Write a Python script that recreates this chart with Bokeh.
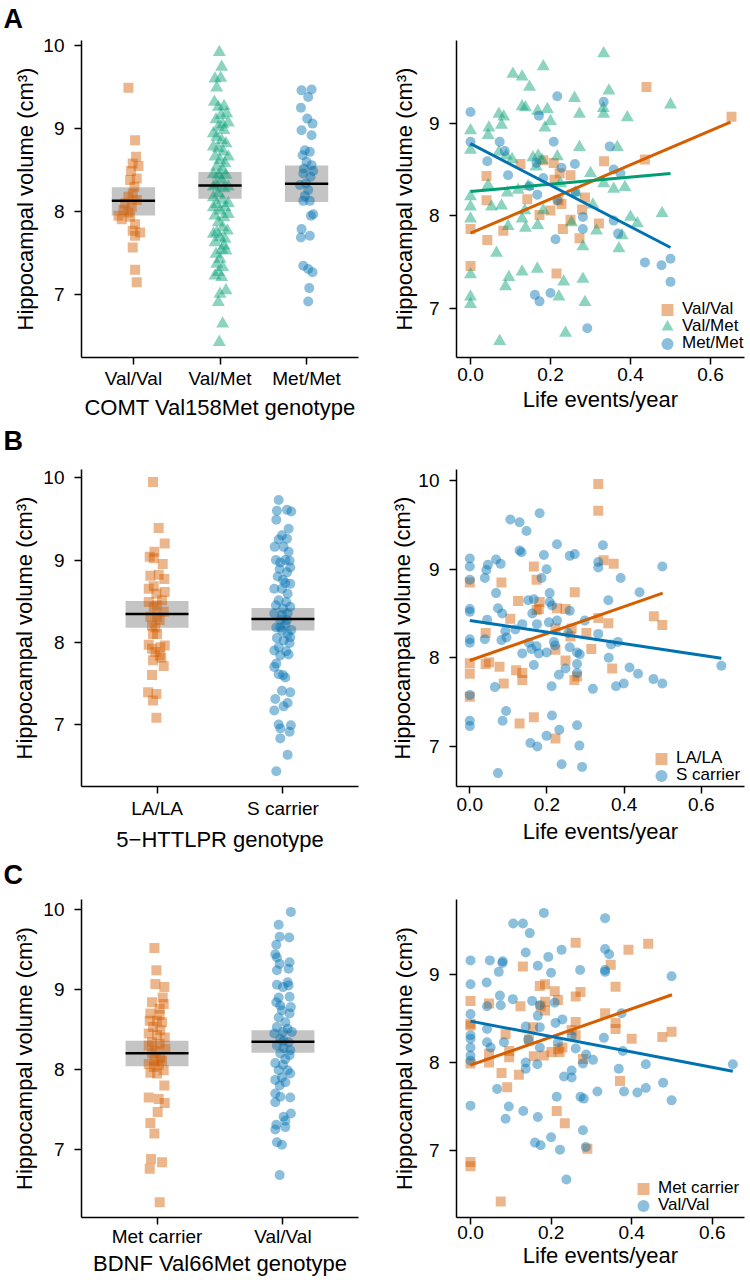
from bokeh.plotting import figure
from bokeh.layouts import column, row
from bokeh.models import Range1d, FixedTicker, PrintfTickFormatter, Legend, LegendItem, Title
from bokeh.embed import file_html
from bokeh.resources import INLINE

FONT = "Liberation Sans"
ORANGE, GREEN, BLUE = "#D55E00", "#009E73", "#0072B2"

# ---------------- Panel A (COMT Val158Met) ----------------
a_groups = ["Val/Val", "Val/Met", "Met/Met"]
a_means = [8.13, 8.315, 8.335]
a_ci_low = [7.955, 8.155, 8.115]
a_ci_high = [8.295, 8.476, 8.556]
# (jitter offset, volume)
a_strip_valval = [(-0.058, 9.49), (0.019, 8.86), (0.031, 8.66), (-0.008, 8.58), (0.058, 8.55), (-0.027, 8.49),
                  (0.038, 8.40), (-0.038, 8.38), (0.012, 8.30), (-0.008, 8.22), (-0.058, 8.18), (0.038, 8.14),
                  (-0.096, 8.10), (-0.019, 8.06), (-0.115, 8.02), (-0.058, 7.99), (-0.173, 7.95), (-0.038, 7.94),
                  (-0.135, 7.91), (0.019, 7.85), (-0.008, 7.77), (0.077, 7.75), (0.019, 7.71), (-0.008, 7.57),
                  (0.019, 7.30), (0.038, 7.15)]
a_strip_valmet = [(-0.008, 9.92), (0.019, 9.74), (-0.058, 9.60), (0.008, 9.61), (-0.038, 9.49), (-0.065, 9.32),
                  (-0.019, 9.26), (0.046, 9.27), (0.012, 9.16), (0.077, 9.18), (-0.046, 9.11), (0.031, 9.05),
                  (-0.019, 9.02), (0.046, 8.98), (-0.038, 8.90), (0.019, 8.86), (0.069, 8.82), (-0.019, 8.76),
                  (0.038, 8.72), (-0.058, 8.66), (0.0, 8.62), (0.058, 8.58), (-0.038, 8.54), (0.031, 8.50),
                  (-0.077, 8.45), (-0.019, 8.44), (0.069, 8.44), (0.019, 8.38), (-0.046, 8.32), (0.046, 8.28),
                  (-0.019, 8.22), (-0.077, 8.17), (0.031, 8.14), (-0.038, 8.09), (0.058, 8.05), (0.0, 8.01),
                  (-0.058, 7.95), (0.046, 7.93), (-0.019, 7.87), (0.031, 7.81), (-0.038, 7.75), (0.0, 7.69),
                  (-0.058, 7.63), (0.046, 7.59), (0.019, 7.54), (0.069, 7.53), (0.0, 7.43), (-0.038, 7.37),
                  (0.031, 7.33), (-0.019, 7.27), (0.019, 7.21), (0.069, 7.05), (0.0, 7.01), (-0.019, 6.91),
                  (0.031, 6.65), (-0.008, 6.43), (-0.077, 8.94), (0.096, 9.07), (-0.077, 8.78), (0.096, 8.66),
                  (-0.077, 8.30), (0.096, 8.30), (0.096, 8.10), (-0.077, 8.05), (0.085, 7.77), (-0.077, 7.73),
                  (0.096, 7.97), (-0.046, 7.49), (0.058, 7.67), (-0.058, 7.23)]
a_strip_metmet = [(-0.058, 9.46), (0.058, 9.47), (0.019, 9.38), (-0.065, 9.25), (0.008, 9.12), (0.069, 9.06),
                  (-0.058, 8.98), (0.058, 8.92), (-0.019, 8.74), (0.038, 8.72), (-0.046, 8.68), (0.0, 8.60),
                  (0.058, 8.56), (-0.031, 8.52), (0.077, 8.49), (-0.038, 8.46), (0.046, 8.42), (-0.008, 8.34),
                  (-0.077, 8.32), (0.019, 8.26), (-0.019, 8.19), (-0.038, 8.13), (0.038, 8.13), (0.077, 7.97),
                  (0.05, 7.95), (-0.058, 7.79), (-0.065, 7.69), (0.038, 7.71), (-0.038, 7.35), (0.019, 7.31),
                  (0.069, 7.27), (0.031, 7.08), (0.019, 6.92)]
# (life events/year, volume)
a_life_valval = [(0.6525, 9.07), (0.44, 9.39), (0.436, 8.61), (0.334, 8.59), (0.125, 8.56), (0.04, 8.43),
                 (0.208, 8.57), (0.182, 8.60), (0.25, 8.44), (0.223, 8.46), (0.21, 8.39), (0.04, 8.17),
                 (0.142, 8.18), (0.22, 8.17), (0.2275, 8.13), (0.286, 8.20), (0.279, 8.07), (0.2, 8.06),
                 (0.1725, 8.01), (0.321, 7.92), (0.25, 7.96), (0.0, 7.86), (0.082, 7.84), (0.231, 7.86),
                 (0.2725, 7.76), (0.042, 7.74), (0.0, 7.46), (0.215, 7.38)]
a_life_valmet = [(0.333, 9.75), (0.182, 9.61), (0.106, 9.53), (0.129, 9.50), (0.1475, 9.39), (0.346, 9.35),
                 (0.26, 9.27), (0.5, 9.20), (0.129, 9.18), (0.1375, 9.17), (0.332, 9.16), (0.192, 9.15),
                 (0.168, 9.13), (0.071, 9.10), (0.083, 9.07), (0.2725, 9.10), (0.333, 9.10), (0.392, 9.06),
                 (0.0, 8.92), (0.2, 9.02), (0.186, 8.95), (0.046, 8.95), (0.0775, 8.98), (0.044, 8.87),
                 (0.0, 8.71), (0.071, 8.69), (0.089, 8.65), (0.2725, 8.74), (0.367, 8.74), (0.104, 8.61),
                 (0.156, 8.63), (0.169, 8.65), (0.179, 8.60), (0.217, 8.64), (0.164, 8.53), (0.3, 8.46),
                 (0.333, 8.35), (0.358, 8.29), (0.386, 8.31), (0.0, 8.21), (0.0, 8.10), (0.0525, 8.10),
                 (0.0775, 8.11), (0.092, 8.25), (0.044, 8.33), (0.119, 8.28), (0.144, 8.32), (0.0, 7.97),
                 (0.094, 7.89), (0.129, 7.97), (0.1375, 7.87), (0.168, 7.90), (0.182, 8.06), (0.136, 8.06),
                 (0.2525, 7.93), (0.306, 8.12), (0.315, 7.84), (0.281, 7.67), (0.371, 7.65), (0.379, 7.79),
                 (0.4, 7.99), (0.417, 7.92), (0.479, 8.03), (0.065, 7.60), (0.0, 7.37), (0.0, 7.13),
                 (0.0, 7.05), (0.096, 7.34), (0.0875, 7.24), (0.129, 7.40), (0.167, 7.43), (0.233, 7.29),
                 (0.281, 7.32), (0.221, 7.13), (0.286, 7.07), (0.2375, 6.74), (0.073, 6.65), (0.2625, 8.25),
                 (0.225, 8.35)]
a_life_metmet = [(0.0, 9.12), (0.217, 9.29), (0.333, 9.23), (0.171, 9.08), (0.0, 8.80), (0.073, 8.80),
                 (0.0858, 8.70), (0.208, 8.80), (0.348, 8.75), (0.042, 8.59), (0.094, 8.44), (0.165, 8.57),
                 (0.182, 8.41), (0.2275, 8.52), (0.261, 8.56), (0.358, 8.50), (0.375, 8.46), (0.167, 8.23),
                 (0.1475, 8.32), (0.2625, 8.26), (0.217, 8.17), (0.281, 7.99), (0.281, 7.86), (0.2125, 7.75),
                 (0.358, 7.95), (0.369, 7.81), (0.436, 7.50), (0.4775, 7.47), (0.5, 7.54), (0.5, 7.29),
                 (0.161, 7.15), (0.1725, 7.08), (0.2, 7.17), (0.292, 6.79)]
# regression fits: (intercept, slope, max life events)
a_fits = [(7.815, 1.84, 0.65), (8.264, 0.39, 0.5), (8.78, -2.24, 0.5)]

# ---------------- Panel B (5-HTTLPR) ----------------
b_groups = ["LA/LA", "S carrier"]
b_means = [8.342, 8.281]
b_ci_low = [8.176, 8.143]
b_ci_high = [8.50, 8.415]
b_strip_lala = [(-0.032, 9.95), (0.013, 9.39), (0.061, 9.20), (-0.021, 9.10), (-0.058, 9.04), (-0.026, 9.02),
                (0.045, 8.95), (-0.053, 8.81), (0.013, 8.82), (0.058, 8.77), (-0.026, 8.68), (-0.066, 8.65),
                (0.061, 8.61), (-0.005, 8.59), (0.040, 8.51), (-0.066, 8.49), (-0.026, 8.43), (0.053, 8.37),
                (0.0, 8.31), (-0.053, 8.31), (0.021, 8.27), (-0.013, 8.18), (-0.032, 8.10), (0.0, 8.10),
                (-0.066, 7.97), (0.061, 7.96), (-0.040, 7.92), (-0.013, 7.88), (0.021, 7.84), (-0.032, 7.78),
                (0.034, 7.81), (0.053, 7.71), (-0.040, 7.60), (-0.071, 7.39), (-0.005, 7.37), (-0.032, 7.29),
                (-0.005, 7.08), (0.0, 8.45), (-0.04, 8.20), (0.026, 7.94)]
b_strip_scarrier = [(-0.034, 9.73), (-0.048, 9.60), (0.032, 9.61), (0.066, 9.59), (-0.053, 9.49), (0.045, 9.38),
                    (-0.008, 9.30), (0.032, 9.26), (-0.034, 9.25), (-0.066, 9.16), (0.005, 9.16), (0.045, 9.10),
                    (-0.056, 9.00), (0.019, 9.00), (-0.021, 8.97), (0.053, 8.99), (0.032, 8.85), (-0.042, 8.80),
                    (0.0, 8.76), (0.058, 8.71), (-0.069, 8.65), (-0.008, 8.65), (0.037, 8.59), (-0.034, 8.51),
                    (0.026, 8.49), (-0.056, 8.45), (0.058, 8.43), (0.0, 8.41), (-0.069, 8.35), (0.037, 8.35),
                    (-0.021, 8.27), (0.019, 8.22), (-0.053, 8.18), (0.066, 8.15), (-0.008, 8.14), (0.037, 8.10),
                    (-0.048, 8.05), (0.005, 8.02), (0.053, 7.99), (-0.034, 7.94), (0.026, 7.89), (-0.021, 7.84),
                    (0.045, 7.85), (-0.053, 7.74), (-0.069, 7.70), (0.0, 7.60), (0.019, 7.57), (-0.034, 7.61),
                    (-0.008, 7.41), (0.058, 7.39), (-0.061, 7.31), (0.037, 7.26), (0.005, 7.22), (-0.069, 7.17),
                    (-0.034, 7.00), (0.063, 6.99), (-0.021, 6.95), (0.053, 6.91), (-0.021, 6.83), (0.037, 6.63),
                    (-0.053, 6.43), (-0.026, 8.89), (0.058, 8.91), (0.019, 8.72), (-0.021, 8.18), (0.032, 8.27),
                    (-0.069, 7.90), (0.058, 8.06), (-0.008, 8.33)]
b_life_lala = [(0.333, 9.96), (0.333, 9.66), (0.347, 9.10), (0.373, 9.06), (0.166, 9.03), (0.173, 8.88),
               (0.082, 8.85), (0.272, 8.74), (0.125, 8.64), (0.181, 8.63), (0.179, 8.55), (0.173, 8.54),
               (0.226, 8.56), (0.248, 8.55), (0.359, 8.39), (0.477, 8.47), (0.499, 8.37), (0.333, 8.45),
               (0.105, 8.44), (0.041, 8.28), (0.222, 8.33), (0.264, 8.33), (0.302, 8.28), (0.261, 8.24),
               (0.0, 7.94), (0.0, 7.82), (0.0, 7.56), (0.0, 8.85), (0.041, 7.93), (0.05, 7.95), (0.077, 7.90),
               (0.088, 7.71), (0.12, 7.86), (0.136, 7.83), (0.136, 7.75), (0.222, 8.09), (0.315, 8.10),
               (0.248, 7.97), (0.271, 7.75), (0.278, 7.79), (0.369, 7.88), (0.166, 7.33), (0.129, 7.26),
               (0.222, 7.09)]
b_life_scarrier = [(0.181, 9.63), (0.105, 9.56), (0.129, 9.53), (0.147, 9.43), (0.226, 9.28), (0.345, 9.27),
                   (0.129, 9.21), (0.134, 9.19), (0.272, 9.17), (0.259, 9.15), (0.192, 9.16), (0.0, 9.12),
                   (0.0, 9.03), (0.068, 9.11), (0.08, 9.06), (0.047, 9.05), (0.043, 8.99), (0.333, 9.08),
                   (0.333, 9.02), (0.199, 9.00), (0.499, 9.03), (0.039, 8.90), (0.186, 8.90), (0.391, 8.90),
                   (0.0, 8.88), (0.068, 8.73), (0.207, 8.73), (0.44, 8.74), (0.151, 8.65), (0.166, 8.66),
                   (0.359, 8.65), (0.0, 8.55), (0.0, 8.52), (0.073, 8.56), (0.084, 8.50), (0.207, 8.63),
                   (0.213, 8.59), (0.226, 8.42), (0.259, 8.53), (0.045, 8.43), (0.162, 8.50), (0.136, 8.38),
                   (0.174, 8.38), (0.205, 8.40), (0.298, 8.42), (0.092, 8.30), (0.118, 8.32), (0.039, 8.21),
                   (0.0, 8.21), (0.0, 8.17), (0.082, 8.20), (0.095, 8.23), (0.153, 8.17), (0.173, 8.13),
                   (0.16, 8.10), (0.136, 8.05), (0.166, 7.92), (0.179, 8.05), (0.199, 8.06), (0.218, 8.18),
                   (0.221, 8.14), (0.259, 8.12), (0.278, 8.06), (0.285, 8.04), (0.255, 8.28), (0.333, 8.27),
                   (0.366, 8.15), (0.384, 8.18), (0.36, 8.00), (0.231, 7.81), (0.248, 7.88), (0.278, 7.93),
                   (0.278, 7.83), (0.212, 7.68), (0.319, 7.65), (0.379, 7.68), (0.399, 7.71), (0.414, 7.89),
                   (0.436, 7.82), (0.476, 7.76), (0.499, 7.71), (0.652, 7.91), (0.065, 7.67), (0.0, 7.58),
                   (0.0, 7.29), (0.0, 7.23), (0.094, 7.40), (0.085, 7.29), (0.213, 7.35), (0.232, 7.19),
                   (0.199, 7.12), (0.278, 7.24), (0.284, 7.01), (0.157, 7.04), (0.175, 7.00), (0.238, 6.80),
                   (0.291, 6.77), (0.073, 6.70)]
b_fits = [(7.97, 1.52, 0.5), (8.42, -0.65, 0.652)]

# ---------------- Panel C (BDNF Val66Met) ----------------
c_groups = ["Met carrier", "Val/Val"]
c_means = [8.204, 8.346]
c_ci_low = [8.04, 8.21]
c_ci_high = [8.36, 8.49]
c_strip_met = [(-0.021, 9.52), (-0.005, 9.24), (-0.013, 9.07), (0.058, 9.03), (0.045, 8.90), (-0.040, 8.84),
               (0.053, 8.82), (0.021, 8.76), (-0.053, 8.70), (0.021, 8.68), (-0.058, 8.61), (0.0, 8.61),
               (0.040, 8.59), (-0.032, 8.53), (0.026, 8.49), (-0.066, 8.45), (0.0, 8.43), (0.061, 8.40),
               (-0.040, 8.34), (0.021, 8.32), (-0.066, 8.30), (0.066, 8.26), (-0.013, 8.23), (0.026, 8.15),
               (-0.021, 8.11), (-0.066, 8.07), (0.013, 8.06), (0.053, 7.99), (-0.053, 7.96), (0.0, 7.95),
               (0.058, 7.80), (-0.066, 7.65), (0.013, 7.63), (0.061, 7.58), (0.005, 7.47), (-0.053, 7.33),
               (-0.021, 7.20), (-0.048, 6.88), (0.040, 6.84), (-0.058, 6.76), (0.021, 6.34), (-0.026, 8.03),
               (0.04, 8.11), (-0.04, 8.20)]
c_strip_valval = [(0.063, 9.97), (-0.034, 9.81), (-0.026, 9.66), (0.050, 9.65), (-0.053, 9.56), (-0.061, 9.44),
                  (-0.048, 9.40), (0.053, 9.34), (-0.026, 9.32), (0.045, 9.26), (-0.048, 9.24), (0.037, 9.09),
                  (-0.048, 9.06), (0.045, 9.05), (0.0, 9.03), (0.053, 8.91), (-0.053, 8.84), (-0.021, 8.80),
                  (0.063, 8.78), (-0.008, 8.74), (0.053, 8.70), (-0.034, 8.65), (0.019, 8.59), (-0.048, 8.53),
                  (0.037, 8.51), (-0.069, 8.45), (0.0, 8.47), (0.071, 8.47), (-0.021, 8.38), (0.045, 8.34),
                  (-0.048, 8.30), (0.058, 8.24), (0.005, 8.27), (-0.021, 8.20), (-0.061, 8.08), (0.0, 8.06),
                  (0.037, 7.99), (-0.034, 7.99), (0.058, 7.95), (-0.008, 7.90), (-0.061, 7.87), (0.019, 7.84),
                  (-0.026, 7.80), (-0.061, 7.70), (-0.021, 7.66), (0.058, 7.65), (-0.061, 7.59), (0.063, 7.45),
                  (0.005, 7.41), (0.019, 7.36), (-0.053, 7.31), (0.019, 7.28), (-0.061, 7.25), (-0.048, 7.09),
                  (-0.008, 7.06), (-0.026, 6.68), (0.019, 8.13), (0.053, 8.18), (-0.034, 8.90), (0.005, 8.36)]
c_life_met = [(0.261, 9.36), (0.441, 9.35), (0.392, 9.28), (0.348, 9.11), (0.130, 9.09), (0.172, 8.87),
              (0.185, 8.89), (0.36, 8.86), (0.209, 8.81), (0.273, 8.80), (0.261, 8.75), (0.0, 8.70),
              (0.217, 8.71), (0.046, 8.67), (0.124, 8.64), (0.174, 8.64), (0.185, 8.69), (0.185, 8.59),
              (0.334, 8.56), (0.0, 8.44), (0.0, 8.42), (0.155, 8.40), (0.261, 8.46), (0.36, 8.45),
              (0.36, 8.38), (0.087, 8.32), (0.145, 8.26), (0.4, 8.27), (0.476, 8.29), (0.499, 8.35),
              (0.261, 8.31), (0.251, 8.37), (0.217, 8.15), (0.228, 8.17), (0.046, 8.10), (0.096, 8.13),
              (0.201, 8.12), (0.221, 8.12), (0.157, 8.07), (0.182, 8.08), (0.046, 8.0), (0.096, 8.06),
              (0.279, 8.04), (0.0, 7.99), (0.077, 7.88), (0.12, 7.86), (0.091, 7.72), (0.371, 7.79),
              (0.214, 7.45), (0.234, 7.31), (0.29, 7.02), (0.0, 6.87), (0.0, 6.82), (0.075, 6.42)]
c_life_valval = [(0.182, 9.70), (0.334, 9.64), (0.106, 9.58), (0.130, 9.58), (0.147, 9.47), (0.226, 9.28),
                 (0.334, 9.29), (0.344, 9.23), (0.137, 9.25), (0.193, 9.20), (0.0, 9.16), (0.048, 9.16),
                 (0.080, 9.15), (0.079, 9.13), (0.167, 9.10), (0.070, 9.03), (0.2, 9.02), (0.272, 9.05),
                 (0.334, 9.05), (0.334, 9.03), (0.499, 8.98), (0.0, 8.89), (0.040, 8.91), (0.073, 8.76),
                 (0.105, 8.72), (0.075, 8.65), (0.041, 8.64), (0.153, 8.70), (0.172, 8.65), (0.209, 8.68),
                 (0.0, 8.55), (0.167, 8.53), (0.228, 8.49), (0.375, 8.56), (0.211, 8.45), (0.041, 8.38),
                 (0.0, 8.31), (0.0, 8.27), (0.137, 8.41), (0.172, 8.40), (0.083, 8.23), (0.041, 8.23),
                 (0.050, 8.17), (0.143, 8.26), (0.172, 8.17), (0.217, 8.23), (0.251, 8.30), (0.261, 8.16),
                 (0.331, 8.28), (0.0, 8.17), (0.0, 8.08), (0.0, 8.02), (0.137, 8.00), (0.137, 7.93),
                 (0.166, 7.98), (0.287, 8.09), (0.304, 8.03), (0.279, 7.99), (0.378, 8.13), (0.435, 7.98),
                 (0.651, 7.98), (0.251, 7.91), (0.368, 7.93), (0.232, 7.84), (0.251, 7.83), (0.066, 7.70),
                 (0.214, 7.61), (0.273, 7.61), (0.281, 7.59), (0.315, 7.67), (0.381, 7.67), (0.414, 7.66),
                 (0.435, 7.71), (0.478, 7.77), (0.499, 7.57), (0.0, 7.51), (0.095, 7.50), (0.087, 7.36),
                 (0.131, 7.45), (0.167, 7.38), (0.279, 7.23), (0.160, 7.09), (0.174, 7.06), (0.2, 7.15),
                 (0.222, 7.01), (0.286, 7.04), (0.238, 6.67)]
c_fits = [(7.97, 1.6, 0.5), (8.47, -0.876, 0.651)]

y_ticks_strip = [7, 8, 9, 10]
x_ticks_life = [0.0, 0.2, 0.4, 0.6]
y_label = "Hippocampal volume (cm³)"
x_label_life = "Life events/year"

MARK = {"square": 10, "triangle": 13, "circle": 10}


def style_axes(p, yticks, xls, xals, yls, yals):
    for ax in (p.xaxis[0], p.yaxis[0]):
        ax.axis_line_width = 1.5
        ax.axis_line_color = "black"
        ax.major_tick_line_width = 1.5
        ax.major_tick_line_color = "black"
        ax.major_tick_out = 7
        ax.major_tick_in = 0
        ax.minor_tick_out = 0
        ax.minor_tick_in = 0
        ax.major_label_text_font = FONT
        ax.major_label_text_font_size = "19px"
        ax.major_label_text_color = "black"
        ax.axis_label_text_font = FONT
        ax.axis_label_text_font_size = "22px"
        ax.axis_label_text_font_style = "normal"
        ax.axis_label_text_color = "black"
    p.xaxis[0].major_label_standoff = xls
    p.xaxis[0].axis_label_standoff = xals
    p.yaxis[0].major_label_standoff = yls
    p.yaxis[0].axis_label_standoff = yals
    p.yaxis[0].ticker = FixedTicker(ticks=yticks)
    p.yaxis[0].axis_label = y_label
    p.grid.visible = False
    p.outline_line_color = None


def make_fig(h, xr, yr, borders):
    l, r, t, b = borders
    return figure(width=375, height=h, x_range=Range1d(*xr), y_range=Range1d(*yr),
                  output_backend="svg", toolbar_location=None,
                  min_border_left=l, min_border_right=r, min_border_top=t, min_border_bottom=b)


def strip_panel(groups, strips, markers, colors, means, lo, hi, xlabel, h, yr, borders,
                stand, letter, gap):
    p = make_fig(h, (0.4, len(groups) + 0.6), yr, borders)
    idx = list(range(1, len(groups) + 1))
    p.quad(left=[i - 0.25 for i in idx], right=[i + 0.25 for i in idx], bottom=lo, top=hi,
           fill_color="#C4C4C4", line_color=None)
    for i, pts, mk, col in zip(idx, strips, markers, colors):
        xs = [i + o for o, _ in pts]
        ys = [v for _, v in pts]
        p.scatter(xs, ys, marker=mk, size=MARK[mk], fill_color=col, fill_alpha=0.45, line_color=None)
    p.segment(x0=[i - 0.25 for i in idx], x1=[i + 0.25 for i in idx], y0=means, y1=means,
              line_color="black", line_width=2.5)
    style_axes(p, y_ticks_strip, *stand)
    p.xaxis[0].ticker = FixedTicker(ticks=idx)
    p.xaxis[0].major_label_overrides = {i: g for i, g in zip(idx, groups)}
    p.xaxis[0].axis_label = xlabel
    # blank spacer between the frame and the panel letter
    p.add_layout(Title(text=" ", text_font_size="1px", standoff=gap), "above")
    p.title.text = letter
    p.title.align = "left"
    p.title.offset = -78
    p.title.standoff = 0
    p.title.text_font = FONT
    p.title.text_font_size = "27px"
    p.title.text_font_style = "bold"
    p.title.text_color = "black"
    return p


def life_panel(groups, lifes, markers, colors, fits, h, xr, yr, yticks, borders, stand, leg_x, leg_ys):
    p = make_fig(h, xr, yr, borders)
    rends = []
    for g, pts, mk, col in zip(groups, lifes, markers, colors):
        xs = [x for x, _ in pts]
        ys = [v for _, v in pts]
        rends.append(p.scatter(xs, ys, marker=mk, size=MARK[mk], fill_color=col, fill_alpha=0.45,
                               line_color=None))
    for (b0, b1, xm), col in zip(fits, colors):
        p.line([0.0, xm], [b0, b0 + b1 * xm], line_color=col, line_width=3)
    style_axes(p, yticks, *stand)
    p.xaxis[0].ticker = FixedTicker(ticks=x_ticks_life)
    p.xaxis[0].formatter = PrintfTickFormatter(format="%.1f")
    p.xaxis[0].axis_label = x_label_life
    for g, rr, ly in zip(groups, rends, leg_ys):
        leg = Legend(items=[LegendItem(label=g, renderers=[rr])], location=(leg_x, ly),
                     background_fill_alpha=0, border_line_color=None,
                     padding=0, margin=0, spacing=0, glyph_width=30, glyph_height=35,
                     label_standoff=0, label_height=17, label_text_font=FONT,
                     label_text_font_size="17px", label_text_color="black")
        p.add_layout(leg)
    return p


markers3 = ["square", "triangle", "circle"]
colors3 = [ORANGE, GREEN, BLUE]
markers2 = ["square", "circle"]
colors2 = [ORANGE, BLUE]

pA1 = strip_panel(a_groups, [a_strip_valval, a_strip_valmet, a_strip_metmet], markers3, colors3,
                  a_means, a_ci_low, a_ci_high, "COMT Val158Met genotype", 422, (6.245, 10.06),
                  (81, 17, 40, 65), (3, 3, 10, 2), "A", 4)
pA2 = life_panel(a_groups, [a_life_valval, a_life_valmet, a_life_metmet], markers3, colors3, a_fits,
                 422, (-0.035, 0.685), (6.475, 9.891), [7, 8, 9], (81, 6, 40, 65), (3, 3, 10, 9),
                 196, [30.5, 13.5, -3.5])
pB1 = strip_panel(b_groups, [b_strip_lala, b_strip_scarrier], markers2, colors2,
                  b_means, b_ci_low, b_ci_high, "5\u2212HTTLPR genotype", 433, (6.245, 10.101),
                  (81, 17, 47, 69), (4, 5, 10, 3), "B", 11)
pB2 = life_panel(b_groups, [b_life_lala, b_life_scarrier], markers2, colors2, b_fits,
                 433, (-0.0345, 0.712), (6.549, 10.124), [7, 8, 9, 10], (81, 6, 47, 69), (4, 5, 10, 0),
                 190, [10.2, -6.5])
pC1 = strip_panel(c_groups, [c_strip_met, c_strip_valval], markers2, colors2,
                  c_means, c_ci_low, c_ci_high, "BDNF Val66Met genotype", 423, (6.15, 10.125),
                  (81, 17, 44, 61), (1, 1, 10, 3), "C", 7)
pC2 = life_panel(c_groups, [c_life_met, c_life_valval], markers2, colors2, c_fits,
                 423, (-0.0348, 0.680), (6.239, 9.852), [7, 8, 9], (81, 6, 44, 61), (1, 1, 10, 9),
                 172, [11.2, -5.5])

layout = column(row(pA1, pA2), row(pB1, pB2), row(pC1, pC2))
open("out.html", "w").write(file_html(layout, INLINE))
